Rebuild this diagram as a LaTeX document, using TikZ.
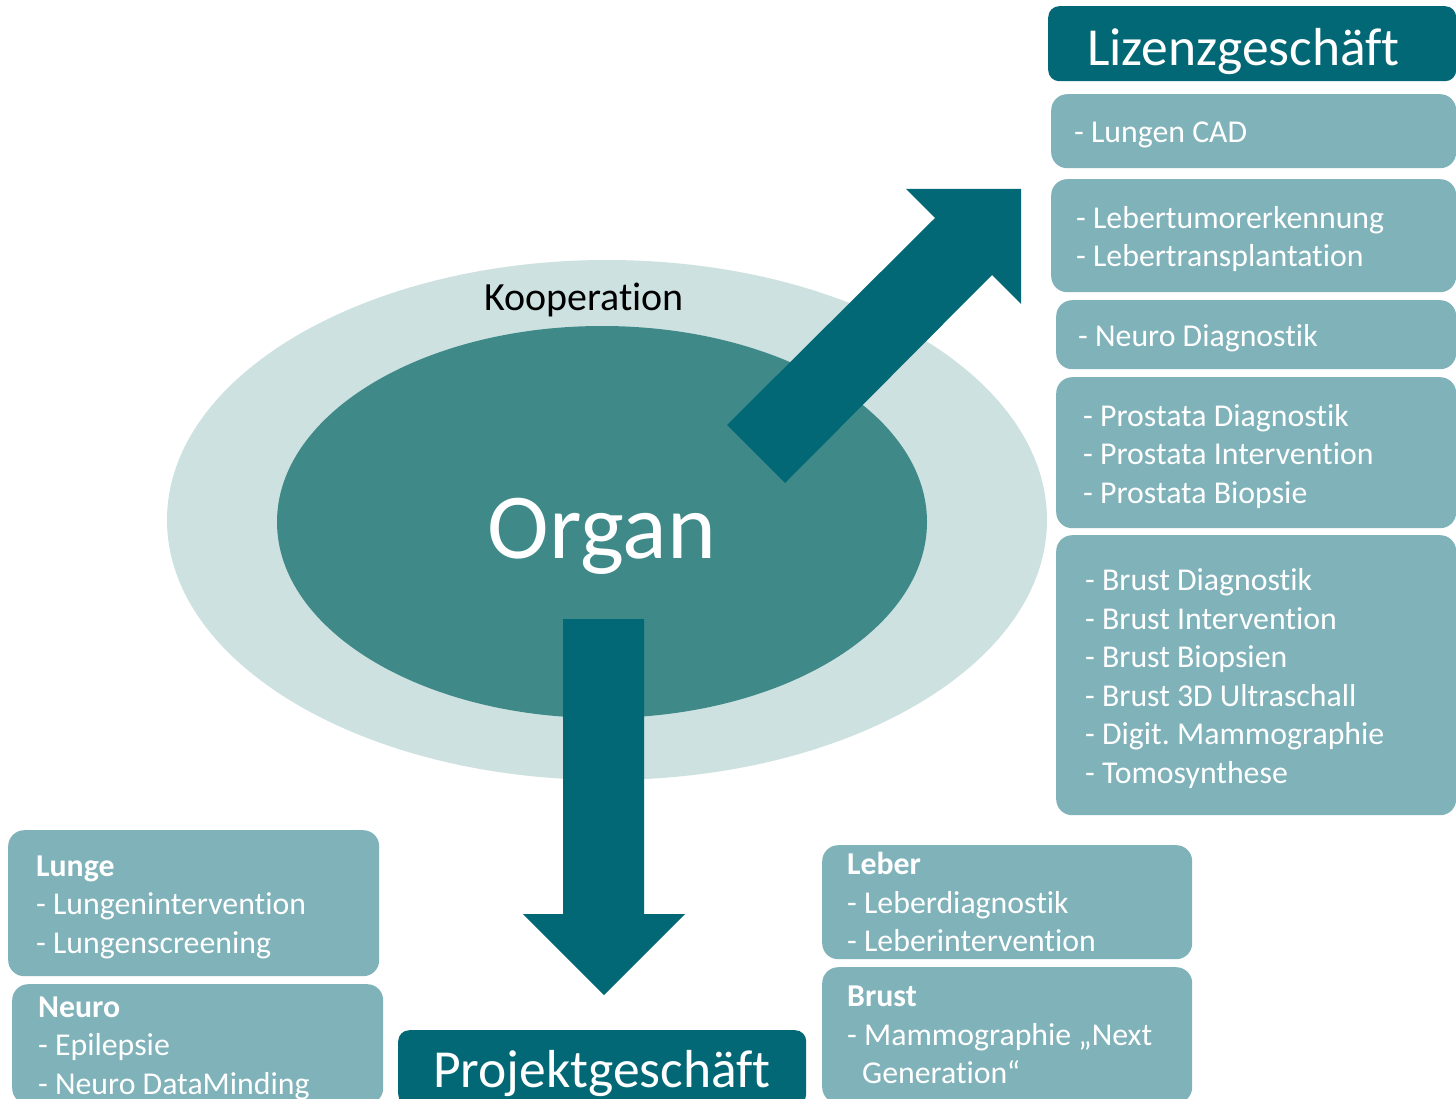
\documentclass[tikz,border=0pt]{standalone}
\usepackage{fontspec}
\setmainfont{Carlito}[Ligatures={NoCommon,NoContextual}]
\usepackage{tikz}
\usetikzlibrary{shapes.geometric}
\usetikzlibrary{positioning}

\definecolor{tealdark}{HTML}{036875}
\definecolor{tealmid}{HTML}{3F8A89}
\definecolor{teallight}{HTML}{CDE1E0}
\definecolor{boxblue}{HTML}{80B2BA}

\frenchspacing
\begin{document}
\begin{tikzpicture}[
        x=1pt, y=-1pt,
        item/.style={fill=boxblue, rounded corners=16pt, text=white, align=flush left,
            anchor=north west, inner xsep=25pt, inner ysep=0pt,
            font=\fontsize{31.8}{38.5}\selectfont},
        lowered/.style={execute at begin node={\rule{0pt}{29pt}}},
        header/.style={fill=tealdark, rounded corners=11pt, text=white, align=flush left,
            anchor=north west, inner ysep=0pt, text height=43pt, text depth=0pt,
            font=\fontsize{53.5}{60}\selectfont},
        ring/.style={ellipse, inner sep=0pt},
        bigarrow/.style={fill=tealdark},
        every node/.style={color=black}
        ]
        \clip (0,0) rectangle (1456,1099);

        % ellipses
        \node[ring, fill=teallight, minimum width=880pt, minimum height=520pt] (koopring) at (607,520) {};
        \node[ring, fill=tealmid, minimum width=650pt, minimum height=392pt] (organ) at (602,522) {};
        \node[anchor=base, font=\fontsize{40}{48}\selectfont] (koop) at (584,310) {Kooperation};
        \node[anchor=base, text=white, font=\fontsize{93}{100}\selectfont] (organlbl) at (602,558) {Organ};

        % arrows
        \fill[bigarrow] (727,425) -- (935,218) -- (906,189) -- (1021,189)
            -- (1021,304) -- (992,275) -- (785,483) -- cycle;
        \fill[bigarrow] (563,619) -- (563,914) -- (523,914) -- (604,995)
            -- (685,914) -- (644,914) -- (644,619) -- cycle;

        % Lizenzgeschaeft
        \node[header, inner xsep=39pt, minimum width=408pt, text width=330pt, minimum height=75pt]
            (lizenz) at (1048,6) {Lizenzgesch\"aft};
        \node[item, lowered, inner xsep=23pt, minimum width=405pt, text width=359pt, minimum height=74pt]
            (lungcad) at (1051,94) {- Lungen CAD};
        \node[item, lowered, minimum width=405pt, text width=355pt, minimum height=113pt]
            (lebertx) at (1051,179) {- Lebertumorerkennung\\- Lebertransplantation};
        \node[item, lowered, inner xsep=22pt, minimum width=400pt, text width=356pt, minimum height=69pt]
            (neurodx) at (1056,300) {- Neuro Diagnostik};
        \node[item, lowered, inner xsep=27pt, minimum width=400pt, text width=346pt, minimum height=151pt]
            (prostata) at (1056,377) {- Prostata Diagnostik\\- Prostata Intervention\\- Prostata Biopsie};
        \node[item, lowered, inner xsep=29pt, minimum width=400pt, text width=342pt, minimum height=280pt]
            (brustlist) at (1056,535) {- Brust Diagnostik\\- Brust Intervention\\- Brust Biopsien\\
            - Brust 3D Ultraschall\\- Digit. Mammographie\\- Tomosynthese};

        % Projektgeschaeft
        \node[header, inner xsep=35pt, minimum width=408pt, text width=338pt, minimum height=75pt,
            text depth=4pt] (projekt) at (398,1030) {Projektgesch\"aft};
        \node[item, lowered, inner xsep=28pt, minimum width=371pt, text width=315pt, minimum height=146pt]
            (lunge) at (8,830) {\textbf{Lunge}\\- Lungenintervention\\- Lungenscreening};
        \node[item, lowered, inner xsep=26pt, minimum width=371pt, text width=319pt, minimum height=120pt]
            (neuro) at (12,984) {\textbf{Neuro}\\- Epilepsie\\- Neuro DataMinding};
        \node[item, minimum width=370pt, text width=320pt, minimum height=114pt]
            (leber) at (822,845) {\textbf{Leber}\\- Leberdiagnostik\\- Leberintervention};
        \node[item, minimum width=370pt, text width=320pt, minimum height=136pt]
            (brust) at (822,967) {\textbf{Brust}\\- Mammographie „Next\\\hspace*{15pt}Generation“};
    \end{tikzpicture}
\end{document}
